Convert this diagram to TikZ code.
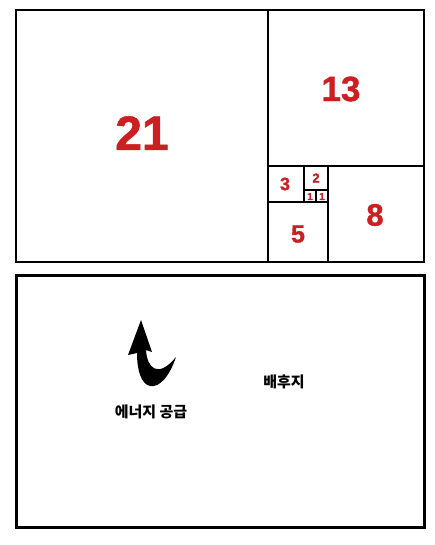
\documentclass[tikz,border=0pt]{standalone}
\usepackage{fontspec}
\setmainfont{Liberation Sans}
\newfontfamily\numfont{Liberation Sans}[BoldFeatures={FakeBold=1.2}]
\newfontfamily\krfont{Noto Sans CJK KR}
\usepackage{tikz}
\usetikzlibrary{calc}
\definecolor{fibred}{RGB}{205,30,34}

\begin{document}
\begin{tikzpicture}[x=1pt, y=-1pt,
		sq/.style={draw, line width=1.5pt},
		frame/.style={draw, line width=3pt},
		num/.style={text=fibred, inner sep=0pt},
		kr/.style={font=\krfont\bfseries\fontsize{15}{17}\selectfont, inner sep=0pt}
		]
		
			\useasboundingbox (0,0) rectangle (435,545);
			
			% fibonacci squares
			\draw[sq] (16,10) rectangle (424,262);
			\draw[sq] (268,10) -- (268,262);
			\draw[sq] (268,166) -- (424,166);
			\draw[sq] (328,166) -- (328,262);
			\draw[sq] (268,202) -- (328,202);
			\draw[sq] (304,166) -- (304,202);
			\draw[sq] (304,190) -- (328,190);
			\draw[sq] (316,190) -- (316,202);
			
			\node[num, font=\numfont\bfseries\fontsize{48}{50}\selectfont] (n21) at (142,133) {21};
			\node[num, font=\numfont\bfseries\fontsize{35}{36}\selectfont] (n13) at (341,89) {13};
			\node[num, font=\numfont\bfseries\fontsize{31}{32}\selectfont] (n8) at (375,215) {8};
			\node[num, font=\numfont\bfseries\fontsize{25}{26}\selectfont] (n5) at (298,234) {5};
			\node[num, font=\numfont\bfseries\fontsize{18}{19}\selectfont] (n3) at (285,184) {3};
			\node[num, font=\numfont\bfseries\fontsize{13}{14}\selectfont] (n2) at (316,178) {2};
			\foreach \x [count=\i from 1] in {310,322}
			\node[num, font=\numfont\bfseries\fontsize{10}{10}\selectfont] (one\i) at (\x,196.5) {1};
			
			% lower panel
			\draw[frame] (16,275) rectangle (424,527);
			
			\fill (141,320) -- (152,352) -- (146,350)
			.. controls (147,368) and (158,379) .. (176,357)
			.. controls (170,375) and (160,388) .. (150,386)
			.. controls (141,384) and (137,370) .. (137,353)
			-- (128,355) -- cycle;
			
			\node[kr] (supply) at (151,412) {에너지 공급};
			\node[kr] (hinter) at (284,382) {배후지};
		\end{tikzpicture}
\end{document}
